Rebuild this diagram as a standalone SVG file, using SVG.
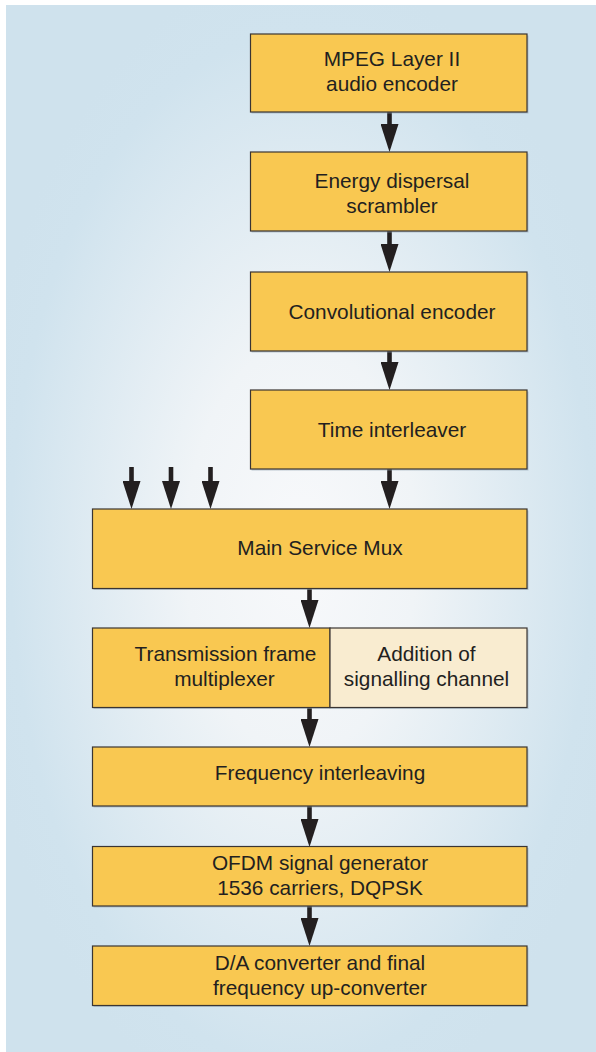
<svg xmlns="http://www.w3.org/2000/svg" width="596" height="1052" viewBox="0 0 596 1052">
  <style>
    .box { fill: #f9c851; stroke: #3a3533; stroke-width: 1.2; }
    .box2 { fill: #f9ecd0; stroke: #3a3533; stroke-width: 1.2; }
    .shadow { fill: #8fa3af; opacity: 0.55; }
    .lbl { font-family: "Liberation Sans", Arial, Helvetica, sans-serif; font-size: 20.8px; fill: #231f20; text-anchor: middle; }
    .conn { stroke: #231f20; stroke-width: 4.6; fill: none; marker-end: url(#head); }
  </style>
  <defs>
    <radialGradient id="bg" cx="0.5" cy="0.52" r="0.56">
      <stop offset="0" stop-color="#f8f9fb"/>
      <stop offset="0.35" stop-color="#f0f4f7"/>
      <stop offset="0.88" stop-color="#d0e3ee"/>
      <stop offset="1" stop-color="#cfe2ed"/>
    </radialGradient>
    <marker id="head" viewBox="0 0 28 18" refX="0" refY="9" markerWidth="28" markerHeight="18" markerUnits="userSpaceOnUse" orient="auto">
      <path d="M0,0 L28,9 L0,18 Z" fill="#231f20"/>
    </marker>
  </defs>

  <rect x="0" y="0" width="596" height="1052" fill="#ffffff"/>
  <rect x="6" y="5" width="590" height="1047" fill="url(#bg)"/>

  <g id="connectors">
    <line class="conn" x1="389.5" y1="112" x2="389.5" y2="124"/>
    <line class="conn" x1="389.5" y1="231" x2="389.5" y2="244"/>
    <line class="conn" x1="389.5" y1="351" x2="389.5" y2="362"/>
    <line class="conn" x1="389.5" y1="469" x2="389.5" y2="481"/>
    <line class="conn" x1="131.5" y1="467" x2="131.5" y2="481"/>
    <line class="conn" x1="171" y1="467" x2="171" y2="481"/>
    <line class="conn" x1="210.5" y1="467" x2="210.5" y2="481"/>
    <line class="conn" x1="309.5" y1="588" x2="309.5" y2="600"/>
    <line class="conn" x1="309.5" y1="707" x2="309.5" y2="719"/>
    <line class="conn" x1="309.5" y1="806" x2="309.5" y2="819"/>
    <line class="conn" x1="309.5" y1="906" x2="309.5" y2="918"/>
  </g>

  <g id="mpeg">
    <rect class="shadow" x="251.5" y="35.5" width="277" height="78"/>
    <rect class="box" x="250.5" y="34" width="276.5" height="78"/>
    <text class="lbl" x="392" y="66">MPEG Layer II</text>
    <text class="lbl" x="392" y="91">audio encoder</text>
  </g>

  <g id="energy">
    <rect class="shadow" x="251.5" y="153.5" width="277" height="79"/>
    <rect class="box" x="250.5" y="152" width="276.5" height="79"/>
    <text class="lbl" x="392" y="188">Energy dispersal</text>
    <text class="lbl" x="392" y="213">scrambler</text>
  </g>

  <g id="conv">
    <rect class="shadow" x="251.5" y="273.5" width="277" height="79"/>
    <rect class="box" x="250.5" y="272" width="276.5" height="79"/>
    <text class="lbl" x="392" y="319">Convolutional encoder</text>
  </g>

  <g id="time">
    <rect class="shadow" x="251.5" y="391.5" width="277" height="79"/>
    <rect class="box" x="250.5" y="390" width="276.5" height="79"/>
    <text class="lbl" x="392" y="437">Time interleaver</text>
  </g>

  <g id="mux">
    <rect class="shadow" x="93.5" y="510.5" width="435" height="79.5"/>
    <rect class="box" x="92.5" y="509" width="434.5" height="79.5"/>
    <text class="lbl" x="320" y="555">Main Service Mux</text>
  </g>

  <g id="txframe">
    <rect class="shadow" x="93.5" y="629.5" width="435" height="79.5"/>
    <rect class="box" x="92.5" y="628" width="237.5" height="79.5"/>
    <rect class="box2" x="330" y="628" width="197" height="79.5"/>
    <text class="lbl" x="225.5" y="661">Transmission frame</text>
    <text class="lbl" x="224.5" y="686">multiplexer</text>
  </g>

  <g id="signalling">
    <text class="lbl" x="426.5" y="661">Addition of</text>
    <text class="lbl" x="426.5" y="686">signalling channel</text>
  </g>

  <g id="freq">
    <rect class="shadow" x="93.5" y="748.5" width="435" height="59"/>
    <rect class="box" x="92.5" y="747" width="434.5" height="59"/>
    <text class="lbl" x="320" y="780">Frequency interleaving</text>
  </g>

  <g id="ofdm">
    <rect class="shadow" x="93.5" y="848" width="435" height="59.5"/>
    <rect class="box" x="92.5" y="846.5" width="434.5" height="59.5"/>
    <text class="lbl" x="320" y="870">OFDM signal generator</text>
    <text class="lbl" x="320" y="895">1536 carriers, DQPSK</text>
  </g>

  <g id="dac">
    <rect class="shadow" x="93.5" y="947.5" width="435" height="59.5"/>
    <rect class="box" x="92.5" y="946" width="434.5" height="59.5"/>
    <text class="lbl" x="320" y="970">D/A converter and final</text>
    <text class="lbl" x="320" y="995">frequency up-converter</text>
  </g>
</svg>
